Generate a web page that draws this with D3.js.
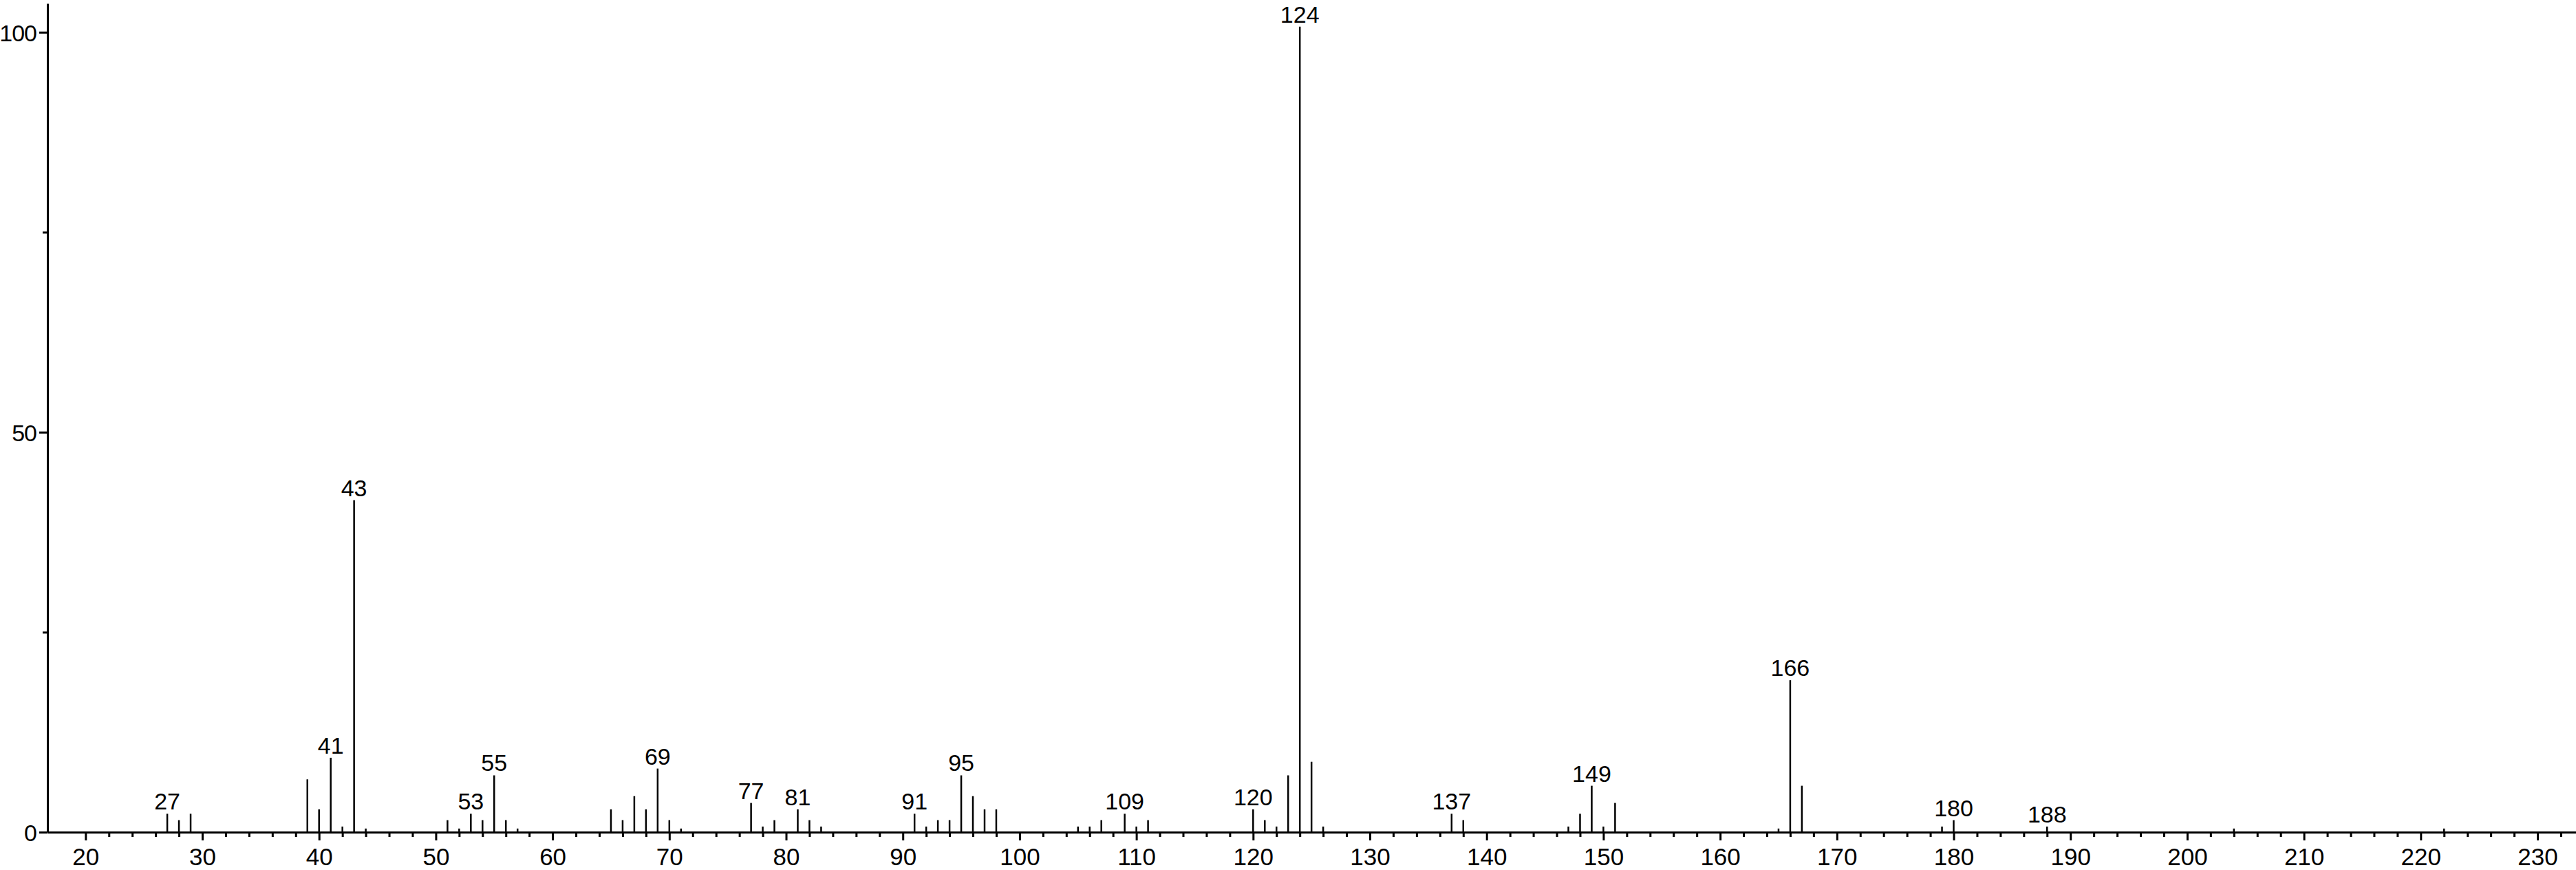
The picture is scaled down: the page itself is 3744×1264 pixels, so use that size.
<!DOCTYPE html>
<html>
<head>
<meta charset="utf-8">
<script src="https://cdn.jsdelivr.net/npm/d3@7"></script>
<style>
  body { margin: 0; background: #fff; }
</style>
</head>
<body>
<div id="spectrum"></div>
<script>
// mass spectrum, relative intensity against m/z

var mz = [27, 28, 29, 39, 40, 41, 42, 43, 44, 51, 52, 53, 54, 55, 56, 57,
    65, 66, 67, 68, 69, 70, 71, 77, 78, 79, 81, 82, 83,
    91, 92, 93, 94, 95, 96, 97, 98, 105, 106, 107, 109, 110, 111,
    120, 121, 122, 123, 124, 125, 126, 137, 138, 147, 148, 149, 150, 151,
    165, 166, 167, 179, 180, 188, 204, 222]

var intensity = [2.3, 1.5, 2.3, 6.6, 2.85, 9.3, 0.7, 41.5, 0.45, 1.5, 0.45, 2.3, 1.5, 7.1, 1.5, 0.45,
    2.85, 1.5, 4.5, 2.85, 7.95, 1.5, 0.45, 3.65, 0.7, 1.5, 2.85, 1.5, 0.7,
    2.3, 0.7, 1.5, 1.5, 7.1, 4.5, 2.85, 2.85, 0.7, 0.7, 1.5, 2.3, 0.7, 1.5,
    2.85, 1.5, 0.7, 7.1, 100.7, 8.8, 0.7, 2.3, 1.5, 0.7, 2.3, 5.8, 0.7, 3.65,
    0.45, 19, 5.8, 0.7, 1.5, 0.7, 0.45, 0.45]

// peaks that get a label
var labelled = [27, 41, 43, 53, 55, 69, 77, 81, 91, 95, 109, 120, 124, 137, 149, 166, 180, 188]

var xMajor = d3.range(20, 231, 10)
var xMinor = d3.range(20, 233, 2).filter(d => d % 10 !== 0)
var yMajor = [0, 50, 100]
var yMinor = [25, 75]

var width = 3744
var height = 1264

var peaks = mz.map((d, i) => ({ mz: d, value: intensity[i] }))

var svg = d3.select("#spectrum")
    .append("svg")
    .attr("width", width)
    .attr("height", height)
    .style("font-family", "'Liberation Sans', Arial, sans-serif");

svg.append("rect")
    .attr("width", width)
    .attr("height", height)
    .attr("fill", "#fff");

// scales
var x = d3.scaleLinear()
    .domain([16.74, 233.3])
    .range([69, width])

var y = d3.scaleLinear()
    .domain([0, 103.6])
    .range([1209, 5])

// minor ticks first so the axes sit on top
svg.append("g")
    .attr("transform", `translate(0,${y(0)})`)
    .call(d3.axisBottom(x).tickValues(xMinor).tickSize(7).tickFormat(""))
    .call(g => g.select(".domain").remove())
    .call(g => g.selectAll("line").attr("stroke-width", 3));

svg.append("g")
    .attr("transform", `translate(${x.range()[0]},0)`)
    .call(d3.axisLeft(y).tickValues(yMinor).tickSize(7).tickFormat(""))
    .call(g => g.select(".domain").remove())
    .call(g => g.selectAll("line").attr("stroke-width", 3));

var xAxis = g => g
    .attr("transform", `translate(0,${y(0)})`)
    .call(d3.axisBottom(x).tickValues(xMajor).tickSize(12).tickSizeOuter(0))
    .call(g => g.select(".domain").attr("stroke-width", 3))
    .call(g => g.selectAll(".tick line").attr("stroke-width", 3))
    .call(g => g.selectAll(".tick text")
        .attr("font-size", 35)
        .attr("font-family", "'Liberation Sans', Arial, sans-serif")
        .attr("fill", "#000")
        .attr("y", 48)
        .attr("dy", 0))

var yAxis = g => g
    .attr("transform", `translate(${x.range()[0]},0)`)
    .call(d3.axisLeft(y).tickValues(yMajor).tickSize(12).tickPadding(4).tickSizeOuter(0))
    .call(g => g.select(".domain").attr("stroke-width", 3))
    .call(g => g.selectAll(".tick line").attr("stroke-width", 3))
    .call(g => g.selectAll(".tick text")
        .attr("font-size", 34)
        .attr("letter-spacing", "-1px")
        .attr("font-family", "'Liberation Sans', Arial, sans-serif")
        .attr("fill", "#000")
        .attr("dy", "0.36em"))

svg.append("g")
    .call(xAxis);

svg.append("g")
    .call(yAxis);

// the sticks
svg.append("g")
    .attr("stroke", "#000")
    .attr("stroke-width", 2.5)
    .selectAll("line")
    .data(peaks)
    .join("line")
    .attr("x1", d => x(d.mz))
    .attr("x2", d => x(d.mz))
    .attr("y1", y(0))
    .attr("y2", d => y(d.value));

// peak labels
svg.append("g")
    .attr("font-size", 34)
    .attr("text-anchor", "middle")
    .attr("fill", "#000")
    .selectAll("text")
    .data(peaks.filter(d => labelled.includes(d.mz)))
    .join("text")
    .attr("x", d => x(d.mz))
    .attr("y", d => y(d.value) - 6)
    .text(d => d.mz);
</script>
</body>
</html>
